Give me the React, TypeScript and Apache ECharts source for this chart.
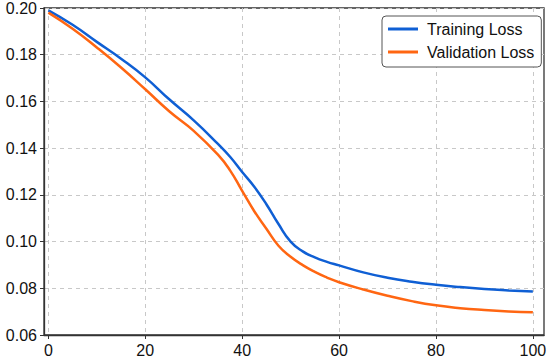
import React, { useEffect, useRef } from "react";
import * as echarts from "echarts";

const epochs = [0, 5, 10, 15, 20, 25, 30, 35, 37.5, 40, 42.5, 45, 47.5, 50, 52.5, 55, 57.5, 60, 65, 70, 75, 80, 85, 90, 95, 100];
const trainingLoss = [0.199, 0.1928, 0.1855, 0.1783, 0.1703, 0.1608, 0.1519, 0.1418, 0.1363, 0.1298, 0.1235, 0.1160, 0.1075, 0.1000, 0.0958, 0.0932, 0.0913, 0.0898, 0.0868, 0.0845, 0.0828, 0.0815, 0.0805, 0.0797, 0.0791, 0.0786];
const validationLoss = [0.198, 0.1911, 0.1831, 0.1745, 0.1652, 0.1557, 0.1474, 0.1372, 0.1305, 0.1217, 0.1130, 0.1055, 0.0982, 0.0935, 0.0899, 0.0870, 0.0846, 0.0826, 0.0795, 0.0768, 0.0745, 0.0727, 0.0715, 0.0707, 0.0701, 0.0697];
const xTicks = [0, 20, 40, 60, 80, 100];
const seriesNames = ["Training Loss", "Validation Loss"];

const FONT = "Liberation Sans";

export default function App() {
  const ref = useRef<HTMLDivElement>(null);
  useEffect(() => {
    if (!ref.current) return;
    const chart = echarts.init(ref.current, undefined, { renderer: "svg" });
    chart.setOption({
      animation: false,
      backgroundColor: "#ffffff",
      grid: {
        left: 44,
        right: 6,
        top: 7,
        bottom: 24,
        show: true,
        borderColor: "#333",
        borderWidth: 1.3,
        backgroundColor: "transparent",
      },
      legend: {
        orient: "vertical",
        left: 382,
        top: 16,
        padding: [5, 7, 7, 6],
        itemGap: 7,
        itemWidth: 30,
        itemHeight: 3,
        icon: "rect",
        backgroundColor: "#ffffff",
        borderColor: "#555",
        borderWidth: 1,
        borderRadius: 4,
        textStyle: { fontFamily: FONT, fontSize: 16, color: "#111", padding: [0, 0, 0, 4] },
        data: seriesNames,
      },
      xAxis: {
        type: "value",
        min: -0.9,
        max: 102.3,
        axisLine: { show: true, onZero: false, lineStyle: { color: "#333", width: 1.3 } },
        axisTick: { show: true, length: 4, customValues: xTicks, lineStyle: { color: "#333" } },
        axisLabel: { customValues: xTicks, fontFamily: FONT, fontSize: 16, color: "#111", margin: 7 },
        splitLine: { show: true, lineStyle: { type: [4, 4], color: "#c8c8c8", width: 1 } },
      },
      yAxis: {
        type: "value",
        min: 0.06,
        max: 0.2,
        interval: 0.02,
        axisLine: { show: true, onZero: false, lineStyle: { color: "#333", width: 1.3 } },
        axisTick: { show: true, length: 4, lineStyle: { color: "#333" } },
        axisLabel: {
          fontFamily: FONT,
          fontSize: 16,
          color: "#111",
          margin: 7,
          formatter: (v: number) => v.toFixed(2),
        },
        splitLine: { show: true, lineStyle: { type: [4, 4], color: "#c8c8c8", width: 1 } },
      },
      series: [
        {
          name: seriesNames[0],
          type: "line",
          data: epochs.map((e, i) => [e, trainingLoss[i]]),
          smooth: 0.5,
          symbol: "none",
          lineStyle: { color: "#0f5fd4", width: 2.5 },
          itemStyle: { color: "#0f5fd4" },
        },
        {
          name: seriesNames[1],
          type: "line",
          data: epochs.map((e, i) => [e, validationLoss[i]]),
          smooth: 0.5,
          symbol: "none",
          lineStyle: { color: "#ff6612", width: 2.5 },
          itemStyle: { color: "#ff6612" },
        },
      ],
    });
    return () => chart.dispose();
  }, []);
  return (
    <div
      ref={ref}
      style={{ position: "fixed", left: 0, top: 0, width: 550, height: 359 }}
    />
  );
}
